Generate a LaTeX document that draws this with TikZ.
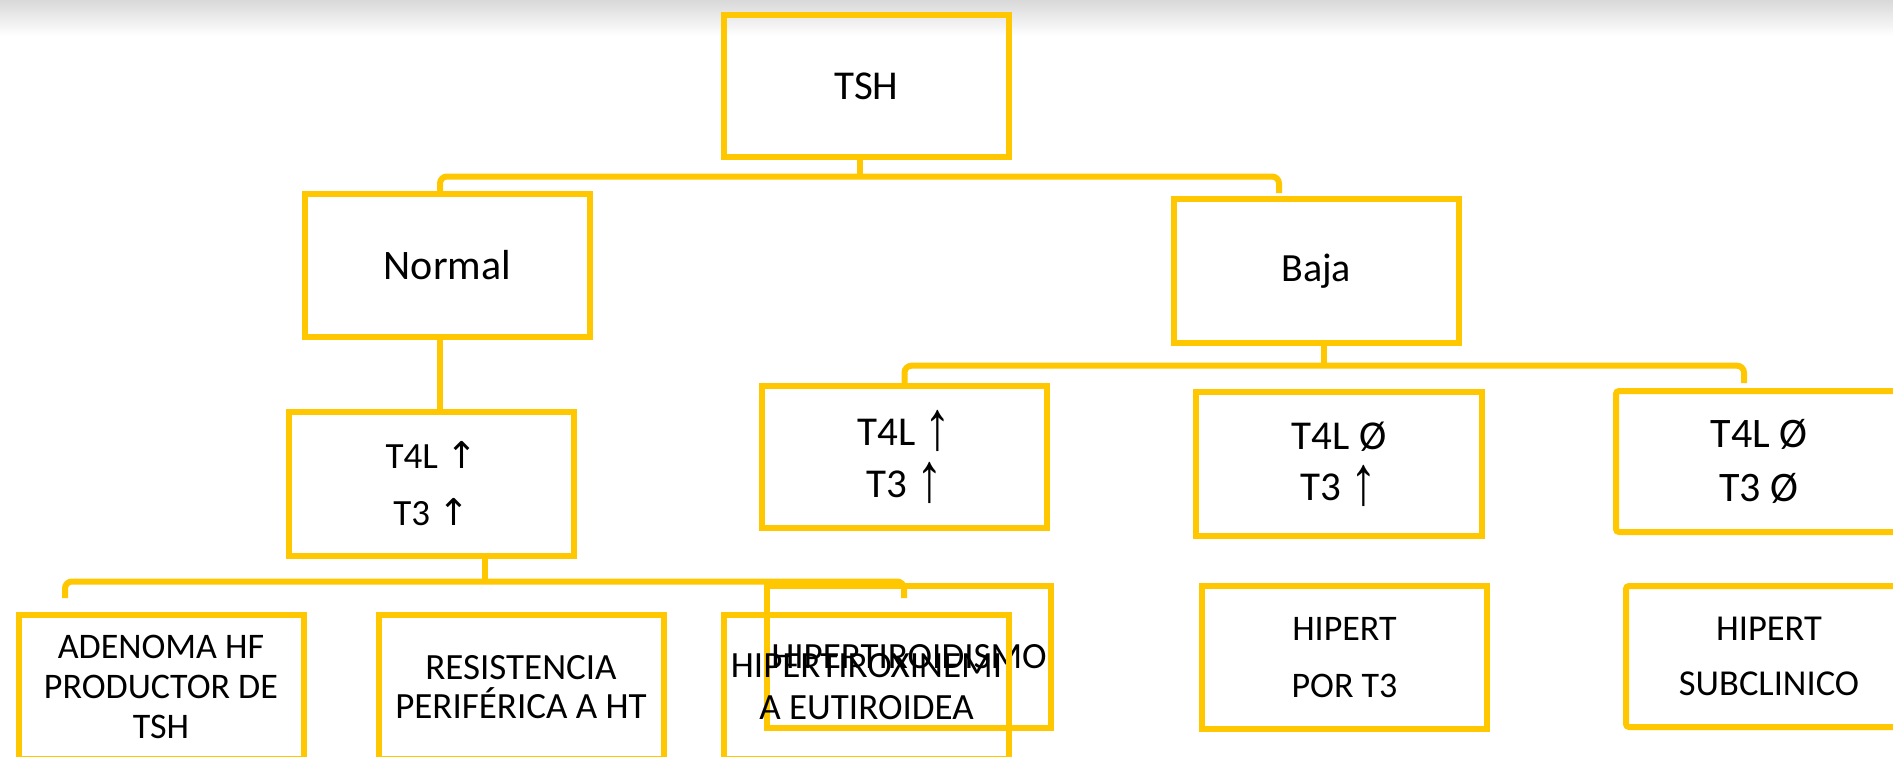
\documentclass[tikz,border=0pt]{standalone}
\usepackage{fontspec}
\usepackage{graphicx}
\setmainfont{Carlito}
\newfontfamily\boldarrowfont{DejaVu Sans}
\newfontfamily\thinarrowfont{Liberation Sans}
\newcommand\upbold{{\boldarrowfont ↑}}
\newcommand\upthin{\raisebox{-4pt}{\scalebox{1.3}[1.7]{\thinarrowfont ↑}}}
\definecolor{gold}{HTML}{FFC700}

\tikzset{
  box/.style={draw=gold, line width=6pt, minimum width=285pt, minimum height=143pt,
              inner sep=0pt, align=center, text=black},
  conn/.style={draw=gold, line width=6pt, rounded corners=7pt},
}

\begin{document}
\begin{tikzpicture}[x=1pt, y=-1pt]
  \useasboundingbox (0,0) rectangle (1893,757);
  \clip (0,0) rectangle (1893,757);
  \fill[white] (0,0) rectangle (1893,757);
  % soft grey band along the top edge
  \shade[top color=black!15, bottom color=white] (0,0) rectangle (1893,36);

  % ---- level 0 / 1
  \node[box, minimum height=142pt, font=\fontsize{41}{49}\selectfont] (tsh) at (866.4,86) {TSH};
  \node[box, font=\fontsize{42}{50}\selectfont] (normal) at (447.4,265.4) {Normal};
  \node[box, minimum height=144pt, font=\fontsize{40}{48}\selectfont] (baja) at (1316.3,271) {Baja};

  % ---- level 2
  \node[box, minimum height=144pt, font=\fontsize{37}{57}\selectfont] (t4lA) at (431.5,484) {T4L \upbold\\T3 \upbold};
  \node[box, minimum height=142pt, font=\fontsize{41}{52}\selectfont] (t4lB) at (904.5,457) {T4L \upthin\\T3 \upthin};
  \node[box, minimum width=286pt, minimum height=144pt, font=\fontsize{41}{51}\selectfont] (t4lC) at (1339,464) {T4L Ø\\T3 \upthin};
  \node[box, minimum width=286pt, minimum height=141pt, rounded corners=3pt, font=\fontsize{42}{54}\selectfont] (t4lD) at (1759,461.5) {T4L Ø\\T3 Ø};

  % ---- level 3
  \node[box, minimum height=144pt, font=\fontsize{36}{40}\selectfont] (adenoma) at (161,687) {ADENOMA HF\\PRODUCTOR DE\\TSH};
  \node[box, minimum height=144pt, font=\fontsize{37}{39}\selectfont] (resist) at (521,687) {RESISTENCIA\\PERIFÉRICA A HT};
  \node[box, minimum width=284pt, minimum height=142pt, font=\fontsize{37}{40}\selectfont] (hipertiroid) at (909,657) {HIPERTIROIDISMO};
  \node[box, minimum height=144pt, font=\fontsize{37}{42}\selectfont] (hipertirox) at (866.5,687) {HIPERTIROXINEMI\\A EUTIROIDEA};
  \node[box, minimum height=143pt, font=\fontsize{36}{57}\selectfont] (hipT3) at (1344.5,657.5) {HIPERT\\POR T3};
  \node[box, minimum width=286pt, minimum height=141pt, rounded corners=3pt, font=\fontsize{36.5}{55}\selectfont] (subclin) at (1769,656.5) {HIPERT\\SUBCLINICO};

  % ---- connector junctions and free ends
  \coordinate (jTop) at (860,176.5);
  \coordinate (topL) at (440,176.5);
  \coordinate (topR) at (1279,176.5);
  \coordinate (topRend) at (1279,193);
  \coordinate (jB) at (1324,365.7);
  \coordinate (bRend) at (1744,383);
  \coordinate (jA) at (485,581.5);
  \coordinate (aLend) at (65,598);
  \coordinate (aRend) at (904,598);

  % TSH -> Normal / Baja
  \draw[conn] (tsh.south -| jTop) -- (jTop);
  \draw[conn] (normal.north -| topL) -- (topL) -- (topR) -- (topRend);
  % Normal -> T4L/T3
  \draw[conn] (normal.south -| topL) -- (t4lA.north -| topL);
  % Baja -> its three results
  \draw[conn] (baja.south -| jB) -- (jB);
  \draw[conn] (t4lB.north) -- (t4lB.north |- jB) -- (bRend |- jB) -- (bRend);
  % T4L/T3 -> diagnoses
  \draw[conn] (t4lA.south -| jA) -- (jA);
  \draw[conn] (aLend) -- (aLend |- jA) -- (aRend |- jA) -- (aRend);
\end{tikzpicture}
\end{document}
